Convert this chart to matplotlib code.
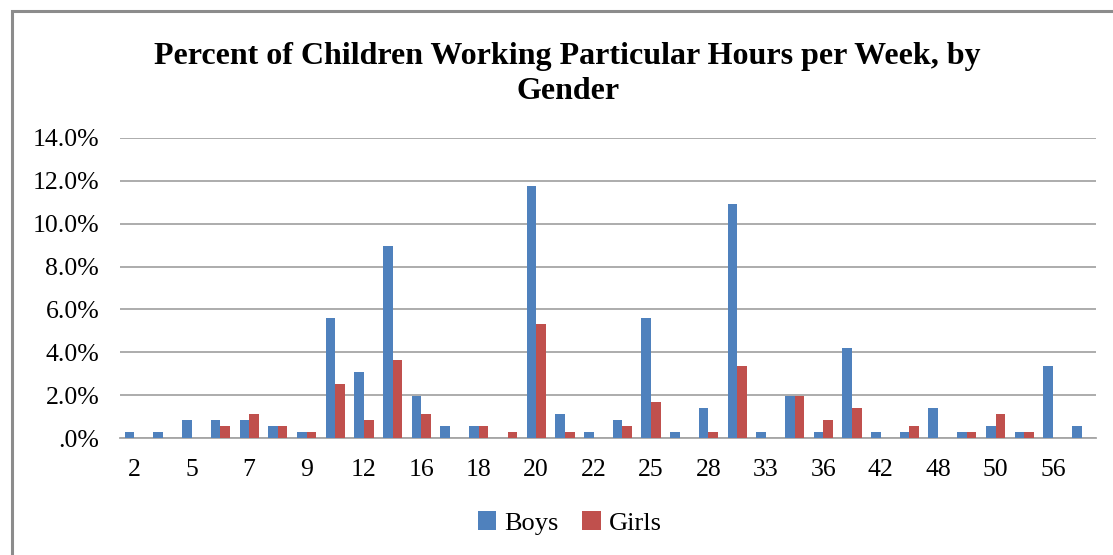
import numpy as np
import matplotlib
matplotlib.use("Agg")
import matplotlib.pyplot as plt
from matplotlib.patches import Rectangle
from matplotlib.ticker import FuncFormatter

# ── Data (percent of children) ─────────────────────────────────────
hour_labels = ["2", "5", "7", "9", "12", "16", "18", "20", "22",
               "25", "28", "33", "36", "42", "48", "50", "56"]
boys = [0.28, 0.28, 0.84, 0.84, 0.84, 0.56, 0.28, 5.6, 3.08, 8.96, 1.96, 0.56,
        0.56, 0.0, 11.76, 1.12, 0.28, 0.84, 5.6, 0.28, 1.4, 10.92, 0.28, 1.96,
        0.28, 4.2, 0.28, 0.28, 1.4, 0.28, 0.56, 0.28, 3.36, 0.56]
girls = [0.0, 0.0, 0.0, 0.56, 1.12, 0.56, 0.28, 2.52, 0.84, 3.64, 1.12, 0.0,
         0.56, 0.28, 5.32, 0.28, 0.0, 0.56, 1.68, 0.0, 0.28, 3.36, 0.0, 1.96,
         0.84, 1.4, 0.0, 0.56, 0.0, 0.28, 1.12, 0.28, 0.0, 0.0]

BLUE = "#4F81BD"
RED = "#C0504D"
GRID = "#A6A6A6"
plt.rcParams["font.family"] = ["Liberation Serif", "DejaVu Serif"]

fig = plt.figure(figsize=(11.13, 5.55), dpi=100)
ax = fig.add_axes([0.1078, 0.2108, 0.8769, 0.5406])

x = np.arange(len(boys))
w = 0.335
ax.bar(x - w / 2, boys, width=w, color=BLUE, label="Boys", zorder=3)
ax.bar(x + w / 2, girls, width=w, color=RED, label="Girls", zorder=3)

ax.set_xlim(-0.5, len(boys) - 0.5)
ax.set_ylim(0, 14)
ax.set_yticks(np.arange(0, 14.1, 2))
ax.yaxis.set_major_formatter(FuncFormatter(lambda v, _: ".0%" if v == 0 else f"{v:.1f}%"))
ax.set_xticks(x[::2])
ax.set_xticklabels(hour_labels)
ax.tick_params(axis="both", length=0, labelsize=18.5, colors="black")
ax.tick_params(axis="y", pad=15)
ax.tick_params(axis="x", pad=15)

ax.grid(axis="y", color=GRID, linewidth=1.3, zorder=0)
for s in ["top", "right", "left"]:
    ax.spines[s].set_visible(False)
ax.spines["bottom"].set_color(GRID)
ax.spines["bottom"].set_linewidth(1.3)

fig.text(0.51, 0.867, "Percent of Children Working Particular Hours per Week, by\nGender",
         ha="center", va="center", fontsize=23, fontweight="bold", linespacing=1.3)

fig.legend(loc="center", bbox_to_anchor=(0.512, 0.058), ncol=2, frameon=False,
           fontsize=19, handlelength=0.7, handleheight=0.7, handletextpad=0.3,
           columnspacing=0.9)

# outer chart frame (cut off on the right and bottom)
fig.patches.append(Rectangle((0.0108, -0.1), 1.2, 1.081, transform=fig.transFigure,
                             fill=False, edgecolor="#8C8C8C", linewidth=2.2))

fig.savefig("out.png", dpi=100)
